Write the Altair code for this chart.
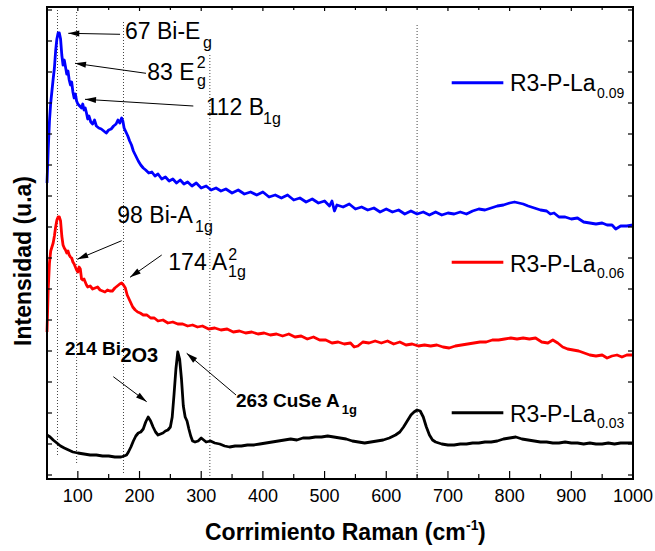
import math
import altair as alt
import pandas as pd

# Raman spectra: (Raman shift in cm^-1, intensity in a.u.)
la09 = [(50,296),(52,330),(54,358),(56,376),(58,388),(60,400),(62,411),(64,428),(66,440),(68,446),(70,446),(72,440),
        (74,424),(76,414),(78,419),(80,412),(82,405),(84,408),(86,399),(88,394),(90,397),(92,387),(94,381),(96,385),
        (98,378),(100,375),(103,373),(106,371),(108,375),(110,369),(112,371),(114,366),(116,360),(118,363),(121,357),
        (124,355),(127,359),(130,353),(134,351),(138,350),(142,348),(146,346),(150,349),(154,350),(158,353),(162,355),
        (165,359),(168,356),(171,361),(173,358),(175,351),(178,347),(181,343),(184,338),(187,334),(190,328),(194,323),
        (198,318),(202,314),(206,311),(210,309),(215,306),(220,307),(225,303),(230,305),(236,300),(242,302),(248,298),
        (254,300),(260,296),(266,299),(272,295),(278,297),(285,293),(292,296),(300,291),(308,293),(316,289),(324,291),
        (332,288),(340,290),(350,286),(360,289),(370,285),(380,287),(390,284),(400,287),(410,282),(420,284),(430,281),
        (440,284),(450,279),(460,281),(470,277),(480,280),(490,276),(500,278),(508,273),(512,278),(516,268),(520,274),
        (530,272),(540,275),(550,270),(560,272),(570,269),(580,271),(590,267),(600,270),(610,267),(620,269),(630,265),
        (640,268),(650,265),(660,267),(670,264),(680,267),(690,264),(700,266),(710,265),(720,267),(730,265),(740,268),
        (750,270),(760,269),(770,271),(780,273),(790,274),(800,276),(808,277),(815,276),(822,275),(830,273),(840,271),
        (850,269),(860,268),(866,265),(872,266),(880,262),(890,262),(900,260),(910,261),(920,257),(930,256),(940,255),
        (950,256),(958,254),(966,254),(972,250),(980,253),(990,253),(1000,254)]

la06 = [(50,147),(52,190),(54,216),(56,228),(58,232),(60,236),(62,243),(64,252),(66,259),(68,262),(70,262),(72,258),
        (74,243),(76,234),(78,231),(80,229),(82,226),(84,228),(86,224),(88,222),(90,221),(92,217),(94,215),(96,212),
        (98,209),(100,207),(102,212),(104,210),(106,200),(108,199),(110,200),(112,197),(114,194),(116,192),(120,193),
        (124,190),(128,191),(132,192),(136,189),(140,188),(144,187),(148,189),(152,188),(156,188),(160,191),(164,193),
        (168,195),(171,196),(174,194),(177,191),(180,184),(183,180),(186,176),(189,172),(193,169),(197,167),(201,166),
        (206,164),(212,164),(218,161),(224,161),(230,158),(238,159),(246,156),(254,157),(262,155),(270,155),(278,153),
        (286,154),(294,152),(302,153),(312,150),(322,151),(332,149),(342,150),(352,147),(362,148),(372,146),(382,147),
        (392,145),(402,146),(412,144),(422,145),(432,143),(442,145),(452,142),(462,143),(472,140),(482,142),(492,139),
        (502,139),(512,136),(522,137),(532,135),(542,136),(548,132),(554,133),(562,137),(572,136),(582,138),(592,136),
        (602,138),(612,135),(622,137),(632,134),(642,135),(652,133),(662,134),(672,133),(682,134),(692,132),(702,131),
        (712,133),(722,134),(732,135),(742,136),(752,137),(762,137),(772,139),(782,139),(792,140),(802,141),(812,140),
        (822,141),(832,140),(842,141),(852,137),(862,136),(870,139),(878,136),(886,132),(894,130),(903,129),(912,128),
        (921,126),(930,124),(940,123),(950,124),(958,121),(966,123),(974,124),(982,122),(990,124),(1000,124)]

la03 = [(50,44),(55,42),(60,39),(66,36),(72,33),(78,31),(85,29),(92,27),(100,26),(110,25),(120,24),(130,24),(140,23),
        (150,23),(160,22),(170,22),(175,23),(179,24),(182,27),(186,32),(190,38),(194,43),(198,46),(202,47),(206,50),
        (210,57),(214,62),(218,58),(222,52),(226,47),(230,44),(234,45),(238,46),(242,48),(246,49),(250,52),(253,62),
        (256,85),(259,110),(262,127),(265,120),(268,100),(271,73),(274,62),(277,58),(280,50),(283,43),(286,38),(290,37),
        (295,38),(300,41),(304,39),(308,37),(315,38),(322,36),(330,35),(338,33),(346,32),(355,33),(365,33),(375,34),
        (385,34),(395,35),(405,36),(415,37),(425,38),(435,39),(445,40),(455,39),(465,41),(475,41),(485,42),(495,42),
        (505,43),(515,42),(525,41),(535,40),(545,38),(555,37),(565,36),(575,37),(585,38),(595,39),(605,41),(615,44),
        (622,47),(628,52),(634,58),(640,64),(645,67),(650,69),(655,68),(660,62),(665,52),(670,44),(675,39),(680,37),
        (690,35),(700,34),(710,34),(720,35),(730,35),(740,36),(750,36),(760,37),(770,37),(780,38),(790,40),(800,41),
        (810,42),(820,40),(830,39),(840,38),(850,37),(860,37),(870,36),(880,36),(890,37),(900,36),(910,36),(920,35),
        (930,36),(940,35),(950,35),(960,36),(970,35),(980,36),(990,36),(1000,36)]

samples = ["R3-P-La0.09", "R3-P-La0.06", "R3-P-La0.03"]
sample_names = ["R3-P-La", "R3-P-La", "R3-P-La"]
sample_subs = ["0.09", "0.06", "0.03"]
colors = ["#0000ff", "#ff0000", "#000000"]

x_ticks = [100, 200, 300, 400, 500, 600, 700, 800, 900, 1000]
x_minor = [150, 250, 350, 450, 550, 650, 750, 850, 950]
y_ticks = [4, 35, 66, 97, 128, 159, 190, 221, 252, 283, 314, 345, 376, 407, 438, 469]

# dotted guides at the assigned Raman modes
mode_x = [67, 98, 174, 314, 650]
mode_top = [472, 469, 459, 424, 456]
mode_bottom = [24, 16, 6, 0, 0]

# arrows: start (x0, y0) -> tip (x1, y1)
arrow_x0 = [168.4, 210.5, 287.2, 171.1, 236.0, 157.5, 356.4]
arrow_y0 = [444.7, 405.7, 373.0, 238.3, 224.0, 102.3, 84.0]
arrow_x1 = [84.5, 95.4, 111.6, 99.1, 184.6, 211.6, 276.5]
arrow_y1 = [445.7, 415.7, 379.7, 219.7, 201.7, 77.3, 125.7]

# peak labels
label_text = ["67 Bi-E", "83 E", "112 B", "98 Bi-A", "174 A"]
label_x = [176.5, 212.6, 307.3, 164.0, 246.7]
label_y = [439.7, 399.0, 364.0, 255.7, 209.0]
script_text = ["g", "2", "g", "1g", "1g", "2", "1g"]
script_x = [302.9, 292.7, 293.2, 400.2, 290.0, 343.9, 343.5]
script_y = [430.7, 411.0, 393.0, 355.0, 247.3, 219.0, 201.7]
bold_text = ["214 Bi", "2O3", "263 CuSe A"]
bold_x = [79.2, 169.0, 356.4]
bold_y = [124.0, 117.0, 72.3]
bold_size = [19, 20, 19]
bold_sub_text = ["1g"]
bold_sub_x = [527.7]
bold_sub_y = [65.0]

# legend entries
leg_x0, leg_x1 = 706.1, 789.8
leg_line_y = [396.3, 216.7, 66.3]
leg_text_x = 800.6
leg_text_y = [388.0, 207.3, 57.3]
leg_sub_x = 941.7
leg_sub_y = [380.7, 201.0, 51.0]

W, H = 586, 472
XMIN, XMAX = 50, 1000
YMIN, YMAX = 0, 472
FONT = "Liberation Sans"

rows = []
for name, pts in zip(samples, [la09, la06, la03]):
    for s, v in pts:
        rows.append({"sample": name, "shift": s, "inten": v})
spectra = pd.DataFrame(rows)

xs = alt.Scale(domain=[XMIN, XMAX], nice=False, zero=False)
ys = alt.Scale(domain=[YMIN, YMAX], nice=False, zero=False)
color_scale = alt.Scale(domain=samples, range=colors)


def X(field):
    return alt.X(field, scale=xs, axis=None)


def Y(field):
    return alt.Y(field, scale=ys, axis=None)


spec = alt.Chart(spectra).mark_line(strokeWidth=2.8, strokeJoin="round").encode(
    x=X("shift:Q"),
    y=Y("inten:Q"),
    color=alt.Color("sample:N", scale=color_scale, legend=None),
)

modes = pd.DataFrame({"x": mode_x, "top": mode_top, "bottom": mode_bottom})
guides = alt.Chart(modes).mark_rule(strokeDash=[1, 2], color="#444", strokeWidth=1).encode(
    x=X("x:Q"), y=Y("bottom:Q"), y2="top:Q")

# plot frame: an open rectangle around the plotting area
frame_box = alt.Chart(pd.DataFrame({"box": ["frame"]})).mark_rect(
    fill="transparent", stroke="black", strokeWidth=2
).encode(x=alt.value(0), x2=alt.value(W), y=alt.value(0), y2=alt.value(H))

# inward ticks on all four sides
xt = pd.DataFrame({"v": x_ticks})
xm = pd.DataFrame({"v": x_minor})
yt = pd.DataFrame({"v": y_ticks})
tick_style = dict(color="black", strokeWidth=1.2)
ticks = [
    alt.Chart(xt).mark_rule(**tick_style).encode(x=X("v:Q"), y=alt.value(H), y2=alt.value(H - 8)),
    alt.Chart(xm).mark_rule(**tick_style).encode(x=X("v:Q"), y=alt.value(H), y2=alt.value(H - 5)),
    alt.Chart(xt).mark_rule(**tick_style).encode(x=X("v:Q"), y=alt.value(0), y2=alt.value(4)),
    alt.Chart(xm).mark_rule(**tick_style).encode(x=X("v:Q"), y=alt.value(0), y2=alt.value(3)),
    alt.Chart(yt).mark_rule(**tick_style).encode(y=Y("v:Q"), x=alt.value(0), x2=alt.value(5)),
    alt.Chart(yt).mark_rule(**tick_style).encode(y=Y("v:Q"), x=alt.value(W), x2=alt.value(W - 5)),
]

# tick labels along the bottom
tick_labels = alt.Chart(pd.DataFrame({"v": x_ticks, "t": [str(v) for v in x_ticks]})).mark_text(
    align="center", baseline="middle", font=FONT, fontSize=18, color="black"
).encode(x=X("v:Q"), y=alt.value(H + 18), text="t:N")

arrows = pd.DataFrame({"x0": arrow_x0, "y0": arrow_y0, "x1": arrow_x1, "y1": arrow_y1})
arrows["ang"] = [
    math.degrees(math.atan2(-(b1 - b0) * H / (YMAX - YMIN), (a1 - a0) * W / (XMAX - XMIN))) % 360
    for a0, b0, a1, b1 in zip(arrow_x0, arrow_y0, arrow_x1, arrow_y1)
]
shafts = alt.Chart(arrows).mark_rule(color="black", strokeWidth=1).encode(
    x=X("x0:Q"), y=Y("y0:Q"), x2="x1:Q", y2="y1:Q")
heads = alt.Chart(arrows).mark_point(
    shape="M0,0L-2,-0.55L-2,0.55Z", filled=True, size=121, color="black", opacity=1, strokeWidth=0
).encode(x=X("x1:Q"), y=Y("y1:Q"), angle=alt.Angle("ang:Q", scale=None))


def text_layer(texts, xv, yv, size, bold=False, color="black"):
    df = pd.DataFrame({"t": texts, "x": xv, "y": yv})
    return alt.Chart(df).mark_text(
        align="left", baseline="alphabetic", font=FONT, fontSize=size,
        fontWeight="bold" if bold else "normal", color=color,
    ).encode(x=X("x:Q"), y=Y("y:Q"), text="t:N")


labels = [
    text_layer(label_text, label_x, label_y, 23),
    text_layer(script_text, script_x, script_y, 16),
    text_layer(bold_sub_text, bold_sub_x, bold_sub_y, 13, bold=True),
] + [
    text_layer([t], [bx], [by], s, bold=True)
    for t, bx, by, s in zip(bold_text, bold_x, bold_y, bold_size)
]

legend_df = pd.DataFrame({"sample": samples, "x0": [leg_x0] * 3, "x1": [leg_x1] * 3, "y": leg_line_y})
legend_lines = alt.Chart(legend_df).mark_rule(strokeWidth=3).encode(
    x=X("x0:Q"), x2="x1:Q", y=Y("y:Q"),
    color=alt.Color("sample:N", scale=color_scale, legend=None))
legend_text = [
    text_layer(sample_names, [leg_text_x] * 3, leg_text_y, 23),
    text_layer(sample_subs, [leg_sub_x] * 3, leg_sub_y, 14),
]


# axis titles
def title_text(t, x, y, size, angle=0, align="left", baseline="alphabetic"):
    kw = dict(align=align, baseline=baseline, font=FONT, fontSize=size, fontWeight="bold", color="black")
    if angle:
        kw["angle"] = angle
    return alt.Chart(pd.DataFrame({"t": [t]})).mark_text(**kw).encode(
        x=alt.value(x), y=alt.value(y), text="t:N")


titles = [
    title_text("Intensidad (u.a)", -23, 254, 23, angle=270, align="center", baseline="middle"),
    title_text("Corrimiento Raman (cm", 158, 533, 23),
    title_text("-1", 419, 523, 14),
    title_text(")", 431, 533, 23),
]

chart = alt.layer(
    guides, spec, *ticks, tick_labels, shafts, heads, *labels, legend_lines, *legend_text, *titles, frame_box
).properties(
    width=W, height=H,
    padding={"left": 47, "top": 7, "right": 22, "bottom": 72},
    autosize=alt.AutoSizeParams(type="none"),
).configure_view(strokeWidth=0)

chart.save("out.html", embed_options={"renderer": "svg", "actions": False})
